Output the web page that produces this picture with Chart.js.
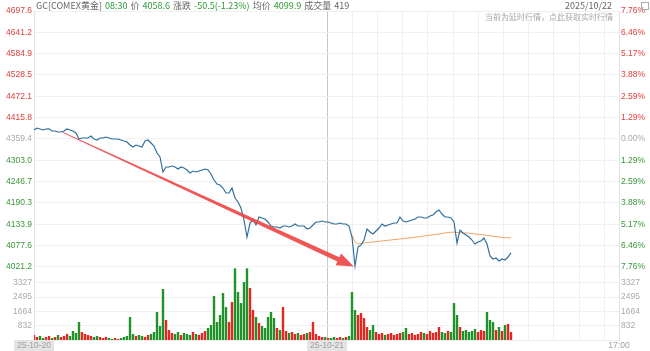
<!DOCTYPE html>
<html>
<head>
<meta charset="utf-8">
<script src="https://cdn.jsdelivr.net/npm/chart.js@4.4.0/dist/chart.umd.min.js"></script>
<style>
  html, body { margin: 0; padding: 0; background: #fff; }
  #wrap { position: relative; width: 650px; height: 351px; overflow: hidden; }
  .t { position: absolute; white-space: nowrap; font-family: "Noto Sans CJK SC", sans-serif; }
  .g { color: #2f9a35; }
</style>
</head>
<body>
<div id="wrap">
  <canvas id="chart" width="650" height="351"></canvas>
  <div class="t" style="left:36px;top:0;font-size:9px;line-height:12px;color:#666;word-spacing:1px;">GC[COMEX黄金] <span class="g">08:30</span> 价 <span class="g">4058.6</span> 涨跌 <span class="g">-50.5(-1.23%)</span> 均价 <span class="g">4099.9</span> 成交量 419</div>
  <div class="t" style="right:38px;top:0;font-size:9px;line-height:12px;color:#666;">2025/10/22</div>
  <div class="t" style="right:37px;top:11px;font-size:8px;line-height:12px;color:#aaa;">当前为延时行情，点此获取实时行情</div>
  <div style="position:absolute;left:641px;top:2px;width:6px;height:6px;border:1px solid #aaa;"></div>
</div>
<script>
// price axis ticks (top to bottom) and the matching % labels
const priceTicks = [4697.6, 4641.2, 4584.9, 4528.5, 4472.1, 4415.8, 4359.4, 4303.0, 4246.7, 4190.3, 4133.9, 4077.6, 4021.2];
const pctTicks = ['7.76%', '6.46%', '5.17%', '3.88%', '2.59%', '1.29%', '0.00%', '1.29%', '2.59%', '3.88%', '5.17%', '6.46%', '7.76%'];
const volTicks = [3327, 2495, 1664, 832];

// time axis: slot positions of the labelled ticks
const timeTickPos = [0, 97.67, 195];
const timeTickText = ['25-10-20', '25-10-21', '17:00'];

// price per slot
const prices = [
  4383.2, 4388.4, 4385.8, 4383.2, 4385.8, 4386.5, 4380.5, 4380.5, 4377.9, 4377.9,
  4380.5, 4385.8, 4383.2, 4380.5, 4375.2, 4359.4, 4362.0, 4362.0, 4362.0, 4367.3,
  4359.4, 4356.7, 4362.0, 4362.0, 4364.7, 4362.0, 4359.4, 4359.4, 4359.4, 4356.7,
  4354.1, 4351.5, 4343.5, 4338.3, 4343.5, 4340.9, 4338.3, 4354.1, 4356.7, 4348.8,
  4340.9, 4322.4, 4311.8, 4272.2, 4285.4, 4285.4, 4288.0, 4285.4, 4280.1, 4285.4,
  4282.7, 4277.5, 4269.5, 4274.8, 4272.2, 4274.8, 4277.5, 4280.1, 4277.5, 4266.9,
  4251.0, 4240.5, 4237.8, 4229.9, 4216.7, 4216.7, 4229.9, 4203.5, 4192.9, 4177.1,
  4145.3, 4100.4, 4137.4, 4145.3, 4132.1, 4153.3, 4150.6, 4148.0, 4140.1, 4129.5,
  4126.9, 4126.9, 4124.2, 4129.5, 4129.5, 4126.9, 4129.5, 4134.8, 4129.5, 4129.5,
  4129.5, 4121.6, 4124.2, 4132.1, 4140.1, 4140.1, 4142.7, 4140.1, 4140.1, 4137.4,
  4134.8, 4134.8, 4137.4, 4134.8, 4134.8, 4129.5, 4100.4, 4023.9, 4074.0, 4079.3,
  4092.5, 4121.6, 4113.6, 4108.4, 4116.3, 4124.2, 4134.8, 4129.5, 4132.1, 4134.8,
  4137.4, 4137.4, 4153.3, 4142.7, 4140.1, 4142.7, 4145.3, 4148.0, 4153.3, 4153.3,
  4150.6, 4150.6, 4155.9, 4158.6, 4166.5, 4171.8, 4161.2, 4153.3, 4153.3, 4150.6,
  4140.1, 4084.6, 4118.9, 4111.0, 4105.7, 4100.4, 4092.5, 4081.9, 4087.2, 4089.9,
  4097.8, 4081.9, 4050.3, 4042.3, 4045.0, 4037.0, 4042.3, 4039.7, 4047.6, 4058.6
];

// session average price (starts with the 25-10-21 session)
const avgPrices = Array(106).fill(null).concat([
  4105.0, 4087.2, 4081.9, 4083.3, 4084.6, 4085.9, 4086.7, 4087.2, 4088.3, 4089.1,
  4089.9, 4090.9, 4091.7, 4092.5, 4093.6, 4094.3, 4095.1, 4096.2, 4097.0, 4097.8,
  4098.8, 4099.9, 4100.9, 4102.0, 4103.1, 4104.1, 4105.2, 4106.3, 4107.3, 4108.4,
  4109.7, 4111.0, 4112.3, 4113.1, 4113.1, 4112.3, 4112.0, 4111.5, 4111.0, 4110.2,
  4109.4, 4108.4, 4107.6, 4106.8, 4105.7, 4104.9, 4103.6, 4102.3, 4101.2, 4100.4,
  4099.6, 4098.8, 4098.3, 4098.0
]);

// volume per slot
const volumes = [
  290, 174, 232, 116, 174, 232, 116, 174, 290, 174,
  232, 348, 232, 522, 406, 1044, 464, 348, 290, 232,
  174, 232, 174, 116, 174, 116, 58, 116, 58, 116,
  174, 232, 1334, 348, 232, 290, 232, 174, 290, 348,
  464, 1624, 812, 2958, 1160, 580, 406, 348, 464, 290,
  406, 348, 290, 464, 348, 290, 406, 522, 696, 870,
  2552, 1044, 1450, 2726, 1914, 1044, 2204, 4159, 2784, 2146,
  3364, 4159, 3016, 1740, 1334, 986, 812, 696, 1334, 1624,
  1276, 696, 580, 1914, 522, 406, 464, 348, 406, 290,
  348, 406, 464, 1044, 348, 232, 174, 174, 116, 116,
  174, 116, 174, 116, 174, 232, 2784, 1740, 1450, 1566,
  1276, 754, 580, 870, 464, 348, 406, 290, 348, 406,
  290, 348, 406, 464, 696, 348, 406, 290, 348, 464,
  406, 348, 522, 406, 464, 754, 464, 406, 522, 464,
  2146, 1450, 754, 522, 580, 464, 522, 638, 464, 580,
  522, 1624, 1160, 1044, 580, 754, 522, 870, 928, 464
];

// red arrow drawn over the chart: [slot, price]
const arrowFrom = [9.6, 4377.0];
const arrowTo = [106.6, 4022.5];

const priceMax = 4697.6;
const priceMin = 3828.3;   // leaves the bottom band for volume
const volMax = 19100;      // volume occupies the bottom band only

const RED = '#e0403c', GREEN = '#3a963a', GRAY = '#aaaaaa';
const FONT = { family: 'Liberation Sans, Arial, sans-serif', size: 8.5 };

// vertical grid: labelled ticks plus the hourly lines of the second day
const xGrid = [0];
for (let v = 97.67; v < 194; v += 8.4) xGrid.push(v);
xGrid.push(195);

// volume tick labels sit on the price axes at the same height as the volume value
const volOnPrice = v => priceMin + v / volMax * (priceMax - priceMin);

function buildYTicks(labels) {
  const list = priceTicks.map((v, i) => ({
    value: v, text: labels[i], color: i < 6 ? RED : (i === 6 ? GRAY : GREEN)
  }));
  volTicks.forEach(v => list.push({ value: volOnPrice(v), text: String(v), color: GRAY }));
  return list;
}
const leftTicks = buildYTicks(priceTicks.map(v => v.toFixed(1)));
const rightTicks = buildYTicks(pctTicks);

const arrowPlugin = {
  id: 'arrow',
  afterDatasetsDraw(chart) {
    const { ctx, scales } = chart;
    const sx = scales.x.getPixelForValue(arrowFrom[0]);
    const sy = scales.y.getPixelForValue(arrowFrom[1]);
    const tx = scales.x.getPixelForValue(arrowTo[0]);
    const ty = scales.y.getPixelForValue(arrowTo[1]);
    const len = Math.hypot(tx - sx, ty - sy);
    const ux = (tx - sx) / len, uy = (ty - sy) / len;
    const nx = -uy, ny = ux;
    const headLen = 17, headW = 6.5, w0 = 0.5, w1 = 2.4;
    const bx = tx - ux * headLen, by = ty - uy * headLen;
    ctx.save();
    ctx.fillStyle = 'rgba(238, 72, 72, 0.92)';
    ctx.beginPath();
    ctx.moveTo(sx + nx * w0, sy + ny * w0);
    ctx.lineTo(bx + nx * w1, by + ny * w1);
    ctx.lineTo(bx + nx * headW, by + ny * headW);
    ctx.lineTo(tx, ty);
    ctx.lineTo(bx - nx * headW, by - ny * headW);
    ctx.lineTo(bx - nx * w1, by - ny * w1);
    ctx.lineTo(sx - nx * w0, sy - ny * w0);
    ctx.closePath();
    ctx.fill();
    ctx.restore();
  }
};

new Chart(document.getElementById('chart'), {
  type: 'line',
  data: {
    datasets: [
      {
        type: 'line',
        data: prices.map((p, i) => ({ x: i, y: p })),
        yAxisID: 'y',
        borderColor: '#2c6d9b',
        borderWidth: 1.15,
        pointRadius: 0,
        tension: 0,
        order: 1
      },
      {
        type: 'line',
        data: avgPrices.map((p, i) => ({ x: i, y: p })),
        yAxisID: 'y',
        borderColor: '#f1a566',
        borderWidth: 1,
        pointRadius: 0,
        tension: 0,
        spanGaps: false,
        order: 2
      },
      {
        type: 'bar',
        data: volumes.map((v, i) => ({ x: i, y: v })),
        yAxisID: 'yv',
        backgroundColor: volumes.map((v, i) => (i === 0 || prices[i] >= prices[i - 1]) ? '#e3261f' : '#21922a'),
        barPercentage: 0.8,
        categoryPercentage: 1,
        order: 3
      }
    ]
  },
  options: {
    responsive: false,
    animation: false,
    layout: { padding: { top: 11, left: 0, right: 0, bottom: 0 } },
    plugins: { legend: { display: false }, tooltip: { enabled: false } },
    scales: {
      x: {
        type: 'linear',
        min: 0,
        max: 195,
        offset: false,
        afterBuildTicks: s => { s.ticks = xGrid.map(v => ({ value: v })); },
        afterFit: s => { s.height = 11; },
        ticks: {
          autoSkip: false,
          maxRotation: 0,
          padding: 1,
          color: '#a0a0a0',
          font: FONT,
          callback: v => {
            const k = timeTickPos.findIndex(p => Math.abs(p - v) < 0.01);
            return k >= 0 ? timeTickText[k] : '';
          },
          showLabelBackdrop: c => c.index < 2,
          backdropColor: '#e4e4e4',
          backdropPadding: { x: 3, y: 1 }
        },
        grid: {
          offset: false,
          drawTicks: false,
          color: c => (c.tick && Math.abs(c.tick.value - 97.67) < 0.01) ? '#c9c9c9' : '#efefef'
        },
        border: { color: '#eeeeee' }
      },
      y: {
        position: 'left',
        min: priceMin,
        max: priceMax,
        afterBuildTicks: s => { s.ticks = leftTicks.map(t => ({ value: t.value })); },
        afterFit: s => { s.width = 34; },
        ticks: {
          autoSkip: false,
          padding: 2,
          font: FONT,
          color: c => leftTicks[c.index] ? leftTicks[c.index].color : GRAY,
          callback: (v, i) => leftTicks[i].text
        },
        grid: { drawTicks: false, color: '#f0f0f0' },
        border: { color: '#e2e2e2' }
      },
      yr: {
        position: 'right',
        min: priceMin,
        max: priceMax,
        afterBuildTicks: s => { s.ticks = rightTicks.map(t => ({ value: t.value })); },
        afterFit: s => { s.width = 31; },
        ticks: {
          autoSkip: false,
          padding: 2,
          font: FONT,
          color: c => rightTicks[c.index] ? rightTicks[c.index].color : GRAY,
          callback: (v, i) => rightTicks[i].text
        },
        grid: { display: false, drawTicks: false },
        border: { color: '#e2e2e2' }
      },
      yv: {
        display: false,
        min: 0,
        max: volMax
      }
    }
  },
  plugins: [arrowPlugin]
});
</script>
</body>
</html>
